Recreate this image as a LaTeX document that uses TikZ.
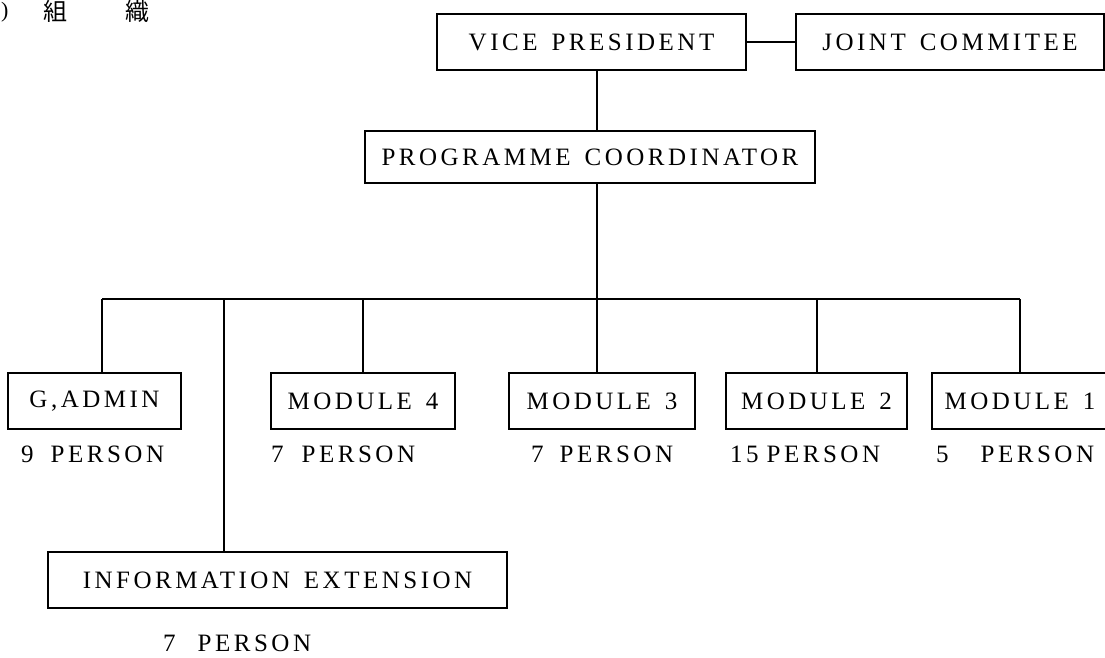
\documentclass[tikz,border=0pt]{standalone}
\usepackage{fontspec}
\setmainfont{Liberation Serif}
\newfontfamily\boxfont[LetterSpace=14]{Liberation Serif}
\newfontfamily\cjkfont{Noto Sans CJK JP}
\newcommand\wgap{\hspace{14pt}}

\begin{document}
\begin{tikzpicture}[x=1pt, y=-1pt,
  unit/.style={draw, line width=1.5pt, minimum height=56pt, inner sep=0pt,
               font=\boxfont\fontsize{25}{28}\selectfont},
  count/.style={anchor=base west, inner sep=0pt,
                font=\boxfont\fontsize{25}{28}\selectfont},
  heading/.style={inner sep=0pt, font=\cjkfont\fontsize{24}{24}\selectfont},
  link/.style={line width=1.7pt}]
\useasboundingbox (0,0) rectangle (1105,658);

% section heading
\node[inner sep=0pt, anchor=base west, font=\fontsize{22}{22}\selectfont] (hpar) at (1,18) {)};
\node[heading] (h1) at (55,11) {組};
\node[heading] (h2) at (137,11) {織};

% upper management
\node[unit, minimum width=309pt] (vp) at (591.5,42) {VICE\wgap PRESIDENT};
\node[unit, minimum width=308pt] (jc) at (950,42) {JOINT\wgap COMMITEE};
\node[unit, minimum width=450pt, minimum height=52pt] (pc) at (590,157) {PROGRAMME\wgap COORDINATOR};

% units
\node[unit, minimum width=173pt] (ga) at (94.5,401) {G,ADMIN};
\node[unit, minimum width=184pt] (m4) at (363,401) {MODULE\wgap 4};
\node[unit, minimum width=186pt] (m3) at (602,401) {MODULE\wgap 3};
\node[unit, minimum width=181pt] (m2) at (816.5,401) {MODULE\wgap 2};
\node[unit, minimum width=176pt] (m1) at (1020,401) {MODULE\wgap 1};
\node[unit, minimum width=459pt] (info) at (277.5,580) {INFORMATION\wgap EXTENSION};

% staff counts
\node[count] (nga) at (21,462) {9\hspace{17pt}PERSON};
\node[count] (nm4) at (271,462) {7\hspace{18pt}PERSON};
\node[count] (nm3) at (531,462) {7\hspace{16pt}PERSON};
\node[count] (nm2) at (730,462) {15\hspace{8pt}PERSON};
\node[count] (nm1) at (936,462) {5\hspace{32pt}PERSON};
\node[count] (ninfo) at (163,651) {7\hspace{22pt}PERSON};

% branch points on the bus
\coordinate (spine) at (597,299);
\coordinate (dga) at (102,299);
\coordinate (dinfo) at (224,299);
\coordinate (dm4) at (363,299);
\coordinate (dm2) at (817,299);
\coordinate (dm1) at (1020,299);

% connectors
\draw[link] (vp) -- (jc);
\draw[link] (vp.south -| spine) -- (pc.north -| spine);
\draw[link] (pc.south -| spine) -- (spine);
\draw[link] (dga) -- (dm1);
\draw[link] (dga) -- (dga |- ga.north);
\draw[link] (dinfo) -- (dinfo |- info.north);
\draw[link] (dm4) -- (m4.north);
\draw[link] (spine) -- (spine |- m3.north);
\draw[link] (dm2) -- (dm2 |- m2.north);
\draw[link] (dm1) -- (m1.north);
\end{tikzpicture}
\end{document}
